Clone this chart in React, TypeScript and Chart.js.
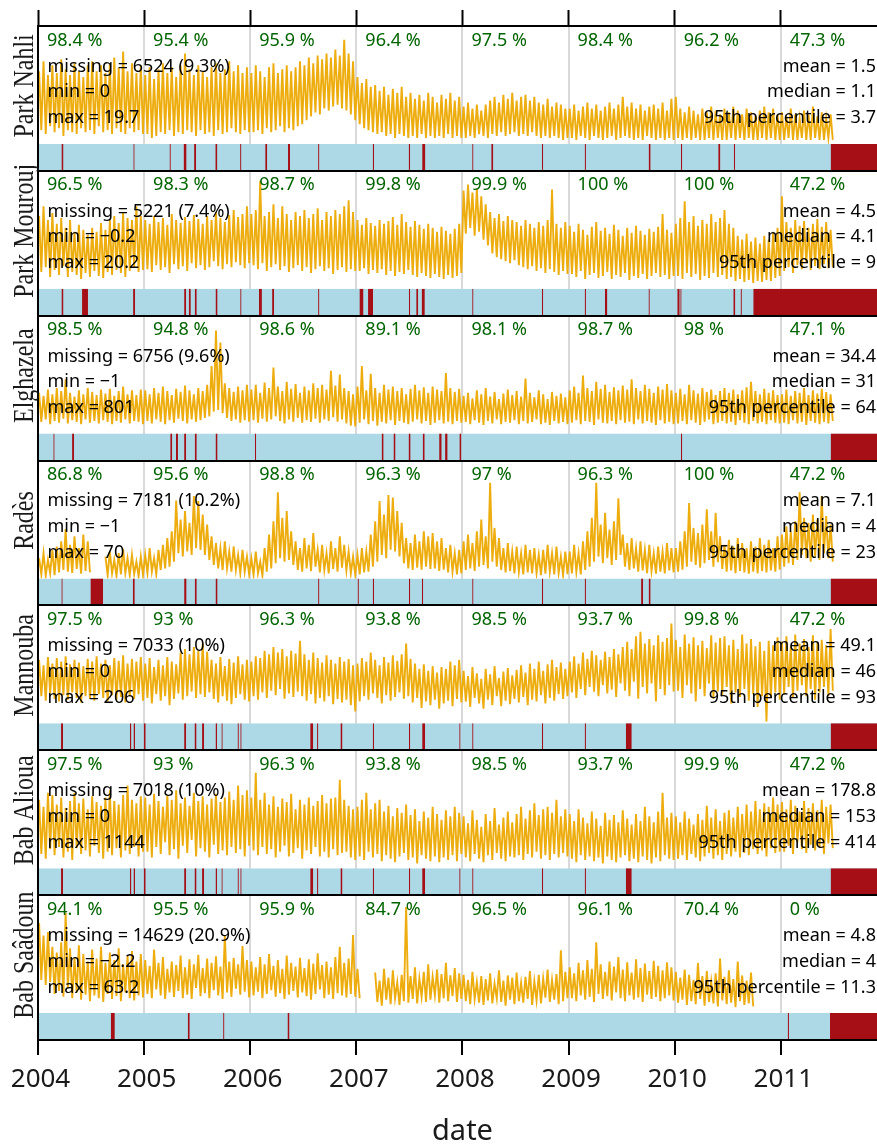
import React, { useEffect, useRef } from 'react';
import { Chart, registerables } from 'chart.js';

Chart.register(...registerables);

// ---------- categories / labels ----------
const STATIONS = ['Park Nahli', 'Park Mourouj', 'Elghazela', 'Radès', 'Mannouba', 'Bab Alioua', 'Bab Saâdoun'];
const YEAR_TICKS = [2004, 2005, 2006, 2007, 2008, 2009, 2010, 2011];
const YEAR_LABELS = ['2004', '2005', '2006', '2007', '2008', '2009', '2010', '2011'];
const X_MIN = 2004;
const X_END = 2012; // end of the plotted period
const X_VIEW_MAX = 2011.906; // right edge visible in the (cropped) figure
const X_TITLE = 'date';

// ---------- yearly data capture (%) ----------
const CAPTURE_NAHLI = [98.4, 95.4, 95.9, 96.4, 97.5, 98.4, 96.2, 47.3];
const CAPTURE_MOUROUJ = [96.5, 98.3, 98.7, 99.8, 99.9, 100, 100, 47.2];
const CAPTURE_ELGHAZELA = [98.5, 94.8, 98.6, 89.1, 98.1, 98.7, 98, 47.1];
const CAPTURE_RADES = [86.8, 95.6, 98.8, 96.3, 97, 96.3, 100, 47.2];
const CAPTURE_MANNOUBA = [97.5, 93, 96.3, 93.8, 98.5, 93.7, 99.8, 47.2];
const CAPTURE_ALIOUA = [97.5, 93, 96.3, 93.8, 98.5, 93.7, 99.9, 47.2];
const CAPTURE_SAADOUN = [94.1, 95.5, 95.9, 84.7, 96.5, 96.1, 70.4, 0];

// ---------- summary statistics ----------
const MISSING_COUNT = [6524, 5221, 6756, 7181, 7033, 7018, 14629];
const MISSING_PCT = ['9.3', '7.4', '9.6', '10.2', '10', '10', '20.9'];
const MIN_VAL = [0, -0.2, -1, -1, 0, 0, -2.2];
const MAX_VAL = [19.7, 20.2, 801, 70, 206, 1144, 63.2];
const MEAN_VAL = [1.5, 4.5, 34.4, 7.1, 49.1, 178.8, 4.8];
const MEDIAN_VAL = [1.1, 4.1, 31, 4, 46, 153, 4];
const P95_VAL = [3.7, 9, 64, 23, 93, 414, 11.3];

// ---------- y range of each time-series strip ----------
const Y_MAX = [6, 12, 150, 35, 130, 500, 16];

// ---------- half-monthly series: local high / local low (from Jan 2004) ----------
const NAHLI_HI = [
  3.7,4.2,3.5,4.0,3.6,4.3,3.8,3.5,4.1,3.7,3.4,4.0,4.2,3.7,4.0,3.6,4.1,4.4,3.9,4.7,3.7,4.1,3.6,4.0,
  3.5,3.9,3.3,3.8,4.1,3.6,3.9,3.4,4.0,4.6,3.8,3.5,4.0,3.7,3.4,3.9,4.1,3.6,3.8,4.2,3.7,4.0,3.6,3.9,
  3.6,4.0,3.7,3.4,3.9,4.1,3.6,3.8,4.0,3.7,3.9,4.2,4.0,4.4,4.1,4.5,4.3,4.6,4.4,4.8,4.5,5.3,4.6,4.2,
  3.4,3.1,3.3,2.9,3.0,2.7,2.9,2.5,2.8,2.6,2.9,2.4,2.6,2.3,2.5,2.2,2.6,2.4,2.1,2.5,2.3,2.6,2.2,2.4,
  1.9,2.1,1.8,2.0,1.7,2.0,2.2,2.4,2.1,2.5,2.3,2.6,2.2,2.4,2.5,2.2,2.4,2.1,2.0,2.3,1.9,2.1,2.0,1.8,
  1.8,2.0,1.7,1.9,2.1,1.8,2.0,1.7,1.9,2.1,1.8,2.0,2.4,1.9,2.1,1.8,2.0,1.7,1.9,2.0,1.8,2.1,1.7,2.3,
  2.4,1.8,1.6,1.9,1.7,1.5,1.8,1.6,1.9,1.7,1.5,1.8,1.6,1.9,1.7,1.5,1.8,1.6,1.4,1.7,1.9,1.6,1.8,1.5,
  1.6,1.4,1.8,1.5,1.3,1.7,1.5,1.9,1.4,1.6,1.3,1.5,
];
const NAHLI_LO = [
  0.7,0.5,0.9,0.6,0.8,0.4,0.7,0.6,0.5,0.8,0.6,0.7,0.5,0.9,0.6,0.7,0.5,0.8,0.6,0.5,0.8,0.6,0.7,0.5,
  0.5,0.3,0.4,0.6,0.5,0.7,0.4,0.6,0.5,0.7,0.6,0.4,0.7,0.5,0.6,0.4,0.7,0.5,0.6,0.8,0.6,0.5,0.7,0.6,
  0.6,0.7,0.5,0.8,0.6,0.7,0.9,0.6,0.8,0.7,0.9,1.0,1.2,1.4,1.6,1.5,1.8,1.7,1.9,2.0,1.8,1.7,1.5,1.2,
  1.0,0.8,0.7,0.6,0.5,0.6,0.4,0.5,0.3,0.5,0.4,0.3,0.4,0.3,0.5,0.3,0.4,0.3,0.4,0.3,0.5,0.3,0.4,0.3,
  0.3,0.4,0.3,0.5,0.4,0.3,0.5,0.4,0.6,0.4,0.5,0.6,0.4,0.5,0.4,0.6,0.4,0.3,0.4,0.3,0.4,0.3,0.2,0.3,
  0.3,0.2,0.4,0.3,0.2,0.4,0.3,0.2,0.3,0.4,0.2,0.3,0.4,0.3,0.2,0.3,0.2,0.4,0.3,0.2,0.3,0.2,0.3,0.2,
  0.3,0.2,0.3,0.2,0.3,0.2,0.2,0.3,0.2,0.3,0.2,0.2,0.3,0.2,0.3,0.2,0.3,0.2,0.2,0.3,0.2,0.3,0.2,0.2,
  0.2,0.3,0.2,0.2,0.3,0.2,0.2,0.3,0.2,0.2,0.3,0.2,
];
const MOUROUJ_HI = [
  7.4,8.4,7.0,7.7,6.6,7.2,6.2,7.0,5.8,6.5,6.0,5.5,6.2,5.8,6.7,6.0,7.0,7.4,6.7,7.7,7.2,7.0,8.4,7.4,
  7.0,6.6,7.4,6.8,7.2,6.5,7.6,7.0,6.7,7.3,6.9,7.5,7.1,6.6,7.4,7.0,7.8,7.2,6.8,7.5,8.0,7.3,7.6,8.4,
  7.6,8.0,11.0,7.4,7.8,8.6,7.2,8.4,7.6,7.0,7.8,7.4,8.0,7.2,7.6,8.2,7.0,7.8,7.4,8.0,7.6,8.4,9.0,7.8,
  7.0,6.5,7.2,6.7,6.4,7.0,6.6,6.9,7.3,6.5,7.6,6.8,6.3,6.9,6.5,6.1,6.6,6.2,5.8,6.3,5.9,5.6,6.1,6.6,
  10.0,10.6,9.8,10.2,9.4,8.6,7.8,7.2,7.6,6.9,7.4,7.0,6.8,6.4,7.0,6.6,6.2,6.8,6.4,7.0,10.1,6.6,6.2,6.8,
  6.4,5.8,6.6,6.0,5.5,6.3,6.8,5.9,6.2,5.6,6.5,6.0,5.4,6.2,5.7,6.4,5.9,5.5,6.1,5.8,6.3,7.6,6.0,5.7,
  6.6,7.2,8.9,6.8,7.4,6.4,7.0,6.6,7.6,6.8,7.2,8.0,6.6,6.2,5.4,5.0,5.6,4.8,5.2,4.6,5.4,5.0,5.8,6.2,
  9.4,6.8,6.2,7.0,6.4,6.9,6.2,6.6,7.1,6.3,6.8,6.0,
];
const MOUROUJ_LO = [
  1.7,2.2,1.2,1.9,1.4,2.3,1.2,1.7,1.4,1.0,1.6,1.2,1.8,1.3,1.1,1.7,1.4,1.9,1.6,1.2,1.8,2.2,1.7,1.9,
  2.0,1.7,2.4,1.9,2.2,1.6,2.5,2.0,2.3,1.8,2.6,2.1,2.4,1.9,2.2,2.8,2.3,2.0,2.5,2.2,2.7,2.4,2.1,2.6,
  2.4,2.0,2.6,1.8,2.2,2.5,1.9,2.3,1.7,2.1,2.4,1.8,2.2,1.6,2.0,2.3,1.8,2.1,1.5,1.9,2.2,1.7,2.0,1.8,
  1.8,2.1,1.5,1.9,1.6,2.0,1.4,1.8,1.3,1.7,1.5,1.9,1.4,1.2,1.6,1.3,1.1,1.5,1.2,1.0,1.4,1.1,1.3,1.6,
  5.6,6.2,5.4,5.8,5.0,4.4,3.6,3.2,3.0,2.8,2.6,2.9,2.4,2.2,2.0,2.3,1.8,2.1,1.6,2.0,1.7,1.4,1.8,1.5,
  1.5,1.2,1.8,1.0,1.4,1.6,1.1,1.3,1.7,1.0,1.4,1.2,1.6,0.9,1.3,1.1,1.5,1.0,1.3,1.6,1.2,1.4,1.0,1.3,
  1.3,1.0,1.6,1.2,1.5,0.9,1.3,1.1,1.6,1.2,1.4,1.0,1.2,0.8,1.0,0.7,0.9,0.6,0.8,0.7,0.9,0.8,1.1,1.3,
  1.8,2.2,1.6,2.4,2.0,2.6,1.9,2.3,2.0,2.5,2.1,2.2,
];
const ELGHAZELA_HI = [
  52,48,56,50,58,54,69,52,47,55,50,58,53,49,56,51,57,48,54,60,50,55,49,56,
  55,50,58,52,60,54,49,57,53,61,55,50,58,54,62,86,131,116,64,58,53,60,55,62,
  56,62,52,65,58,84,60,54,66,57,63,52,60,55,64,58,62,56,80,61,75,58,54,50,
  60,86,55,76,58,52,62,56,60,54,58,50,57,62,55,59,52,60,56,54,77,58,53,57,
  48,52,45,55,50,58,47,53,44,51,56,49,54,47,70,52,46,55,50,44,53,48,51,46,
  55,60,52,74,58,54,66,57,62,53,59,55,61,56,69,58,54,62,57,52,60,56,63,55,
  52,57,50,62,55,51,58,53,56,49,54,58,52,56,50,55,59,66,54,50,57,52,55,49,
  50,56,48,54,52,58,49,55,51,57,53,50,
];
const ELGHAZELA_LO = [
  15,18,12,16,14,19,13,17,15,12,18,14,16,13,17,15,12,16,14,18,13,16,15,12,
  16,13,18,15,12,17,14,19,16,13,18,15,17,20,22,28,30,26,20,16,18,14,17,15,
  17,14,19,15,18,22,16,13,18,15,20,14,17,15,19,14,18,16,21,15,18,13,10,9,
  14,18,12,16,10,15,13,17,11,16,14,12,15,18,13,16,11,14,17,13,15,12,16,14,
  15,12,17,14,11,16,13,18,12,15,14,17,12,16,13,15,18,12,14,11,16,13,15,12,
  14,17,12,16,15,11,18,14,13,16,12,17,14,15,12,18,13,16,14,11,17,13,15,12,
  13,16,12,17,14,11,15,18,12,14,16,13,15,11,17,14,12,16,13,15,12,17,14,13,
  14,12,17,13,15,11,16,14,12,15,13,16,
];
const RADES_HI = [
  6.0,7.5,5.5,8.5,9.5,11.0,14.7,10.0,12.5,9.0,13.0,11.0,null,null,null,6.5,8.0,5.5,7.5,8.8,6.0,7.0,5.0,6.5,
  7.0,9.0,6.0,8.5,10.0,12.0,14.0,23.1,17.5,20.0,16.5,24.5,23.0,19.0,16.0,12.5,10.5,9.0,11.0,8.0,9.5,7.0,8.5,6.5,
  6.0,8.0,5.0,9.0,13.0,17.0,25.6,18.0,20.0,14.0,11.0,9.0,12.0,10.0,13.5,8.5,10.0,7.5,11.0,9.0,12.5,10.0,8.0,6.5,
  7.0,9.0,8.0,13.0,17.0,23.0,19.0,24.8,24.0,20.0,16.5,12.0,10.5,13.0,11.0,14.0,12.5,13.5,11.0,12.0,9.0,10.0,7.5,8.5,
  11.0,13.0,10.5,14.0,17.5,12.5,28.4,15.0,12.0,9.0,10.5,8.0,9.5,7.5,10.0,8.5,9.0,7.0,8.5,10.0,7.5,9.5,6.5,8.0,
  8.0,10.0,7.5,11.0,14.0,18.0,28.4,16.0,19.5,14.5,17.0,23.8,13.0,10.5,12.0,9.0,11.0,8.5,10.0,7.5,9.5,8.0,10.5,9.0,
  9.0,11.0,14.0,22.4,15.0,13.5,16.0,20.5,14.0,19.5,12.5,10.0,11.5,9.5,12.0,10.5,9.0,11.0,9.5,12.0,10.0,11.5,9.0,12.5,
  13.0,15.5,14.0,17.0,25.6,18.0,16.5,19.0,17.5,24.5,18.5,16.0,
];
const RADES_LO = [
  1.2,0.8,1.5,1.0,1.8,2.5,2.0,1.6,2.8,1.4,2.2,1.8,null,null,null,1.0,1.5,0.7,1.2,1.6,0.9,1.3,0.6,1.0,
  1.5,2.0,1.2,2.5,3.0,3.5,5.0,7.5,6.5,8.0,7.0,9.0,8.5,7.0,5.5,4.0,3.0,2.5,3.0,2.0,2.5,1.5,2.0,1.2,
  1.0,1.5,0.8,2.0,3.0,4.5,6.0,5.0,5.5,4.0,2.5,2.0,3.0,2.2,3.5,1.8,2.5,1.5,2.8,2.0,3.2,2.4,1.5,1.0,
  1.2,1.8,2.0,3.5,5.0,7.0,6.0,8.5,8.0,6.5,4.5,3.0,2.5,3.2,2.6,3.5,2.8,3.0,2.2,2.6,1.8,2.0,1.2,1.5,
  2.5,3.0,2.2,3.5,4.0,3.0,5.0,3.5,2.5,1.8,2.2,1.5,2.0,1.2,1.8,1.5,1.6,1.0,1.4,2.0,1.2,1.6,0.9,1.3,
  1.5,2.0,1.2,2.5,3.5,5.0,6.5,4.5,6.0,4.0,5.5,7.0,3.5,2.5,3.0,2.0,2.4,1.6,2.2,1.4,2.0,1.5,2.4,1.8,
  2.0,2.6,3.5,5.0,4.0,3.2,4.5,5.5,3.5,4.8,2.8,2.0,2.4,1.6,2.2,1.8,1.4,2.0,1.5,2.2,1.8,2.4,2.0,2.6,
  3.5,4.5,4.0,5.5,7.0,6.0,5.0,6.5,5.5,7.5,6.0,5.0,
];
const MANNOUBA_HI = [
  70,64,73,66,72,68,74,65,70,67,63,71,68,74,66,70,64,72,69,75,66,71,68,73,
  66,72,62,70,64,73,68,65,78,82,76,84,80,88,79,70,66,73,63,71,67,74,65,70,
  68,74,72,80,76,84,78,82,74,80,77,91,76,70,78,72,67,75,70,66,73,68,71,64,
  66,72,68,78,70,64,73,67,75,69,76,88,71,66,60,65,58,63,56,62,60,68,64,70,
  58,52,62,55,49,60,54,63,50,57,61,53,59,64,56,66,60,68,58,65,70,62,67,60,
  68,74,66,78,71,80,75,70,79,73,82,76,84,90,82,96,101,88,93,86,97,90,94,110,
  92,84,98,88,95,86,91,83,97,89,94,96,86,92,82,98,88,93,85,90,80,91,86,95,
  90,96,85,98,88,93,84,97,89,92,86,104,
];
const MANNOUBA_LO = [
  30,25,33,27,24,31,26,34,28,23,30,27,25,32,28,24,31,26,29,23,30,27,32,25,
  28,22,32,25,30,20,27,33,26,30,35,28,32,29,34,27,23,30,25,21,28,32,26,24,
  30,26,34,28,36,31,38,27,33,29,35,30,25,32,22,28,24,30,21,27,23,26,20,13,
  24,30,26,33,28,22,31,25,29,34,27,30,23,28,17,24,20,26,16,22,25,19,27,23,
  24,18,28,22,16,26,20,30,19,25,21,27,23,29,20,26,24,31,22,28,25,32,27,30,
  34,28,38,31,40,35,30,42,33,37,29,44,36,30,46,27,40,33,44,24,38,31,42,35,
  36,28,42,33,24,38,30,44,27,35,31,40,22,34,29,38,25,32,18,30,2,28,34,26,
  32,40,28,36,42,30,38,26,34,40,30,36,
];
const ALIOUA_HI = [
  290,260,320,310,270,300,255,285,320,275,295,250,305,280,265,300,330,285,270,310,350,290,275,305,
  300,270,315,285,260,310,290,330,275,300,265,320,285,305,270,295,315,280,300,325,290,350,310,330,
  300,405,290,320,270,305,260,295,280,315,250,290,270,300,265,285,310,275,295,300,375,290,265,250,
  260,290,320,250,275,290,240,265,220,255,235,270,225,250,200,240,215,260,230,205,245,220,260,235,
  220,190,245,205,175,230,200,255,185,215,240,195,230,260,210,245,275,225,250,260,235,290,220,250,
  230,200,250,215,190,240,210,180,235,205,225,195,245,210,185,230,200,260,220,195,240,320,215,235,
  220,195,240,210,185,230,205,265,215,250,200,235,245,215,260,230,270,240,285,250,275,260,300,270,
  280,250,290,265,240,285,255,275,245,290,260,270,
];
const ALIOUA_LO = [
  60,40,80,55,90,45,70,35,85,60,75,50,95,65,40,70,55,85,45,75,60,90,50,70,
  70,45,90,60,110,55,80,40,95,65,120,50,85,70,45,100,60,75,55,90,65,80,50,95,
  75,55,90,60,80,45,70,95,50,65,85,40,75,60,90,50,70,45,80,55,65,70,45,35,
  50,35,70,45,60,30,55,40,25,50,65,35,45,20,55,40,30,50,25,45,35,55,30,60,
  45,30,60,40,25,55,35,65,40,30,50,45,55,35,60,45,70,40,55,35,60,45,65,50,
  40,25,55,35,50,30,45,20,50,35,25,45,55,30,40,25,50,35,20,45,30,55,40,35,
  40,55,35,60,45,30,50,65,40,55,35,60,50,70,45,65,55,80,60,75,50,85,65,70,
  70,95,60,110,80,65,100,75,90,60,105,85,
];
const SAADOUN_HI = [
  12.2,10.5,11.0,9.0,8.2,9.6,13.6,8.8,7.5,9.2,8.0,7.0,8.6,7.4,9.0,6.8,8.2,7.2,8.8,6.6,7.8,8.4,7.0,8.0,
  7.2,6.4,8.6,6.8,7.6,6.0,7.0,6.5,7.8,6.2,7.3,6.6,7.9,6.1,7.4,6.8,7.7,6.3,10.6,7.0,7.5,6.6,9.1,7.2,
  7.0,6.2,7.6,6.6,8.0,6.4,7.2,6.0,7.8,6.8,6.3,7.5,6.1,7.3,6.7,8.1,6.5,7.0,6.2,7.6,9.0,6.8,7.4,10.6,
  6.0,null,null,null,5.5,4.4,6.0,4.8,5.8,4.2,5.2,14.4,5.0,6.2,4.7,5.6,6.6,4.9,5.9,5.3,6.8,5.1,6.1,5.4,
  5.2,4.5,5.6,4.2,5.0,4.6,5.4,4.0,5.8,4.4,5.1,4.8,5.5,4.1,4.9,5.7,4.3,5.2,4.7,5.9,4.5,5.3,8.5,5.6,
  6.2,5.4,6.8,5.8,7.2,6.0,9.6,6.6,5.6,7.0,6.3,7.6,5.9,6.9,5.5,7.3,6.1,6.7,5.7,7.1,6.4,5.8,6.9,6.2,
  5.6,4.8,5.9,5.2,4.5,6.8,5.0,5.7,4.3,5.4,7.4,4.9,5.8,4.6,7.0,5.1,4.4,5.5,
];
const SAADOUN_LO = [
  4.5,3.8,4.2,2.6,3.0,2.2,3.4,2.0,2.8,1.8,2.5,1.6,2.4,2.0,1.5,2.6,1.9,2.3,1.6,2.8,2.0,1.7,2.4,2.1,
  2.6,2.0,3.2,2.4,1.9,2.8,2.2,3.0,2.0,2.5,1.9,3.4,2.3,2.7,2.0,3.1,2.4,1.9,2.8,2.2,3.3,2.5,2.9,2.1,
  2.4,2.9,2.0,2.6,3.1,2.2,2.7,1.9,2.5,3.0,2.1,2.8,2.3,1.8,2.6,3.2,2.0,2.5,1.9,2.7,2.4,2.1,2.6,2.2,
  2.0,null,null,null,1.5,1.0,1.8,1.2,2.0,1.1,1.6,1.4,1.9,1.3,2.2,1.5,1.8,2.4,1.4,2.0,1.6,2.3,1.5,1.9,
  1.6,1.2,1.9,1.4,1.1,1.7,1.3,2.0,1.5,1.0,1.8,1.2,1.6,1.4,1.9,1.1,1.7,1.3,2.1,1.5,1.8,1.2,1.6,2.0,
  2.0,1.6,2.4,1.8,2.2,1.5,2.6,1.9,2.3,1.7,2.8,2.0,1.6,2.4,1.8,2.1,1.5,2.5,1.9,2.2,1.6,2.0,2.4,1.7,
  1.4,1.8,1.1,1.6,1.2,1.9,1.0,1.5,1.3,0.9,1.7,1.2,1.4,0.8,1.6,1.1,1.3,0.9,
];

// ---------- missing-data periods [start, end] in decimal years ----------
const NAHLI_GAPS = [
  [2004.221, 2004.240], [2004.900, 2004.909], [2005.241, 2005.250], [2005.372, 2005.400], [2005.471, 2005.490],
  [2005.671, 2005.690], [2005.906, 2005.915], [2006.141, 2006.160], [2006.356, 2006.375], [2006.641, 2006.650],
  [2007.156, 2007.165], [2007.493, 2007.507], [2007.620, 2007.650], [2008.093, 2008.102], [2008.271, 2008.290],
  [2008.750, 2008.759], [2009.153, 2009.162], [2009.754, 2009.773], [2010.060, 2010.069], [2010.410, 2010.430],
  [2010.558, 2010.568], [2011.469, 2012.0],
];
const MOUROUJ_GAPS = [
  [2004.221, 2004.240], [2004.415, 2004.471], [2004.896, 2004.915], [2005.377, 2005.396], [2005.421, 2005.440],
  [2005.477, 2005.496], [2005.673, 2005.692], [2005.907, 2005.916], [2006.082, 2006.110], [2006.206, 2006.225],
  [2006.641, 2006.650], [2007.029, 2007.067], [2007.110, 2007.157], [2007.496, 2007.506], [2007.564, 2007.583],
  [2007.615, 2007.645], [2008.093, 2008.102], [2008.750, 2008.759], [2009.153, 2009.162], [2009.342, 2009.365],
  [2009.754, 2009.764], [2010.024, 2010.047], [2010.054, 2010.063], [2010.552, 2010.571], [2010.622, 2010.631],
  [2010.740, 2012.0],
];
const ELGHAZELA_GAPS = [
  [2004.146, 2004.155], [2004.321, 2004.340], [2005.246, 2005.265], [2005.300, 2005.319], [2005.377, 2005.396],
  [2005.477, 2005.496], [2005.673, 2005.692], [2006.045, 2006.054], [2007.238, 2007.257], [2007.350, 2007.369],
  [2007.492, 2007.511], [2007.625, 2007.644], [2007.780, 2007.804], [2007.836, 2007.860], [2007.971, 2007.990],
  [2010.060, 2010.069], [2011.469, 2012.0],
];
const RADES_GAPS = [
  [2004.222, 2004.231], [2004.494, 2004.613], [2004.893, 2004.912], [2005.377, 2005.400], [2005.477, 2005.496],
  [2005.673, 2005.692], [2006.641, 2006.650], [2007.013, 2007.022], [2007.156, 2007.165], [2007.497, 2007.506],
  [2007.619, 2007.628], [2008.093, 2008.102], [2008.750, 2008.759], [2009.153, 2009.162], [2009.683, 2009.702],
  [2009.754, 2009.773], [2011.469, 2012.0],
];
const MANNOUBA_GAPS = [
  [2004.217, 2004.236], [2004.866, 2004.880], [2004.900, 2004.914], [2004.996, 2005.015], [2005.377, 2005.396],
  [2005.475, 2005.494], [2005.546, 2005.565], [2005.673, 2005.687], [2005.730, 2005.739], [2005.882, 2005.891],
  [2005.908, 2005.917], [2006.565, 2006.593], [2006.631, 2006.640], [2006.850, 2006.869], [2007.156, 2007.165],
  [2007.497, 2007.506], [2007.620, 2007.648], [2007.971, 2007.980], [2008.093, 2008.102], [2008.750, 2008.759],
  [2009.153, 2009.162], [2009.539, 2009.595], [2011.469, 2012.0],
];
const ALIOUA_GAPS = [
  [2004.217, 2004.236], [2004.866, 2004.880], [2004.900, 2004.914], [2004.996, 2005.015], [2005.377, 2005.396],
  [2005.475, 2005.494], [2005.546, 2005.565], [2005.673, 2005.687], [2005.730, 2005.739], [2005.882, 2005.891],
  [2005.908, 2005.917], [2006.565, 2006.593], [2006.631, 2006.640], [2006.850, 2006.869], [2007.156, 2007.165],
  [2007.497, 2007.506], [2007.620, 2007.648], [2007.971, 2007.980], [2008.093, 2008.102], [2008.750, 2008.759],
  [2009.153, 2009.162], [2009.539, 2009.595], [2011.469, 2012.0],
];
const SAADOUN_GAPS = [
  [2004.686, 2004.724], [2005.411, 2005.430], [2005.746, 2005.755], [2006.351, 2006.370],
  [2011.066, 2011.075], [2011.463, 2012.0],
];

// ---------- grouping ----------
const SERIES_HI = [NAHLI_HI, MOUROUJ_HI, ELGHAZELA_HI, RADES_HI, MANNOUBA_HI, ALIOUA_HI, SAADOUN_HI];
const SERIES_LO = [NAHLI_LO, MOUROUJ_LO, ELGHAZELA_LO, RADES_LO, MANNOUBA_LO, ALIOUA_LO, SAADOUN_LO];
const CAPTURE = [CAPTURE_NAHLI, CAPTURE_MOUROUJ, CAPTURE_ELGHAZELA, CAPTURE_RADES, CAPTURE_MANNOUBA, CAPTURE_ALIOUA, CAPTURE_SAADOUN];
const GAPS = [NAHLI_GAPS, MOUROUJ_GAPS, ELGHAZELA_GAPS, RADES_GAPS, MANNOUBA_GAPS, ALIOUA_GAPS, SAADOUN_GAPS];

const COL_TREND = '#EEAD0E';
const COL_DATA = '#ADD8E6';
const COL_MISSING = '#A50F15';
const COL_CAPTURE = '#006400';
const MIN_STRIPE = 0.012; // minimum drawn duration of a missing stripe (years)

function seriesPoints(hi: (number | null)[], lo: (number | null)[]) {
  const pts: { x: number; y: number | null }[] = [];
  hi.forEach((h, i) => {
    pts.push({ x: X_MIN + (i + 0.25) / 24, y: h });
    pts.push({ x: X_MIN + (i + 0.75) / 24, y: lo[i] });
  });
  return pts;
}

function stripPoints(intervals: number[][]) {
  const pts: { x: number; y: number | null }[] = [];
  intervals.forEach(([s, e]) => {
    let a = s;
    let b = e;
    if (b - a < MIN_STRIPE) {
      const c = (a + b) / 2;
      a = c - MIN_STRIPE / 2;
      b = c + MIN_STRIPE / 2;
    }
    pts.push({ x: a, y: 1 }, { x: b, y: 1 }, { x: b, y: null });
  });
  return pts;
}

const fmtNum = (v: number) => (v < 0 ? '\u2212' + Math.abs(v) : String(v));

const textPlugin = {
  id: 'summaryText',
  afterDraw(chart: any) {
    const ctx = chart.ctx;
    const xs = chart.scales.x;
    const area = chart.chartArea;
    const fullRight = xs.getPixelForValue(X_END);
    ctx.save();
    STATIONS.forEach((name, p) => {
      const ys = chart.scales['y' + p];
      const top = ys.top;
      ctx.textBaseline = 'middle';
      ctx.font = '18px "Noto Sans"';
      ctx.fillStyle = COL_CAPTURE;
      ctx.textAlign = 'left';
      CAPTURE[p].forEach((v, k) => {
        ctx.fillText(`${v} %`, xs.getPixelForValue(YEAR_TICKS[k]) + 9, top + 14.5);
      });
      ctx.fillStyle = '#000';
      const left = [
        `missing = ${MISSING_COUNT[p]} (${MISSING_PCT[p]}%)`,
        `min = ${fmtNum(MIN_VAL[p])}`,
        `max = ${fmtNum(MAX_VAL[p])}`,
      ];
      const right = [
        `mean = ${fmtNum(MEAN_VAL[p])}`,
        `median = ${fmtNum(MEDIAN_VAL[p])}`,
        `95th percentile = ${fmtNum(P95_VAL[p])}`,
      ];
      const rows = [40.7, 66.3, 92.3];
      left.forEach((t, r) => ctx.fillText(t, area.left + 9.5, top + rows[r]));
      ctx.textAlign = 'right';
      right.forEach((t, r) => ctx.fillText(t, fullRight - 11, top + rows[r]));
      // station label
      ctx.save();
      ctx.translate(33, (ys.top + ys.bottom) / 2 + 1);
      ctx.rotate(-Math.PI / 2);
      ctx.scale(1, 1.2);
      ctx.font = '24px "Liberation Serif"';
      ctx.textAlign = 'center';
      ctx.textBaseline = 'alphabetic';
      ctx.fillStyle = '#1a1a1a';
      ctx.fillText(name, 0, 0);
      ctx.restore();
    });
    ctx.font = '29px "Noto Sans"';
    ctx.fillStyle = '#1a1a1a';
    ctx.textAlign = 'center';
    ctx.textBaseline = 'alphabetic';
    ctx.fillText(X_TITLE, (area.left + fullRight) / 2, 1140);
    ctx.restore();
  },
};

export default function App() {
  const ref = useRef<HTMLCanvasElement | null>(null);
  useEffect(() => {
    if (!ref.current) return;
    const datasets: any[] = [];
    const scales: any = {
      x: {
        type: 'linear',
        position: 'bottom',
        min: X_MIN,
        max: X_VIEW_MAX,
        afterBuildTicks: (s: any) => { s.ticks = YEAR_TICKS.map((v) => ({ value: v })); },
        afterFit: (s: any) => { s.height = 104; s.paddingLeft = 0; s.paddingRight = 0; },
        ticks: {
          autoSkip: false,
          maxRotation: 0,
          padding: 9,
          labelOffset: 2.5,
          color: '#1a1a1a',
          font: { family: 'Noto Sans', size: 26 },
          callback: (_v: any, i: number) => YEAR_LABELS[i],
        },
        grid: { color: '#d9d9d9', lineWidth: 2, drawTicks: true, tickLength: 15, tickColor: '#000', tickWidth: 2 },
        border: { display: true, color: '#000', width: 2, z: 1 },
      },
      xt: {
        type: 'linear',
        position: 'top',
        min: X_MIN,
        max: X_VIEW_MAX,
        afterBuildTicks: (s: any) => { s.ticks = YEAR_TICKS.map((v) => ({ value: v })); },
        afterFit: (s: any) => { s.height = 26; s.paddingLeft = 0; s.paddingRight = 0; },
        ticks: { display: false },
        grid: { drawOnChartArea: false, drawTicks: true, tickLength: 16, tickColor: '#000', tickWidth: 2 },
        border: { display: true, color: '#000', width: 2, z: 1 },
      },
    };
    STATIONS.forEach((_, p) => {
      scales['y' + p] = {
        type: 'linear',
        position: 'left',
        stack: 'panels',
        stackWeight: 118,
        weight: 100 - 2 * p,
        min: 0,
        max: Y_MAX[p],
        afterBuildTicks: (s: any) => { s.ticks = [{ value: s.max }]; },
        afterFit: (s: any) => { s.width = 38; },
        ticks: { display: false },
        grid: { display: true, drawTicks: false, color: '#000', lineWidth: 2, z: 1 },
        border: { display: true, color: '#000', width: 2, z: 1 },
      };
      scales['b' + p] = {
        type: 'linear',
        position: 'left',
        stack: 'panels',
        stackWeight: 27,
        weight: 99 - 2 * p,
        min: 0,
        max: 1,
        afterFit: (s: any) => { s.width = 38; },
        ticks: { display: false },
        grid: { display: false, drawTicks: false },
        border: { display: true, color: '#000', width: 2, z: 1 },
      };
      datasets.push({
        label: STATIONS[p],
        data: seriesPoints(SERIES_HI[p], SERIES_LO[p]),
        xAxisID: 'x',
        yAxisID: 'y' + p,
        borderColor: COL_TREND,
        borderWidth: 1.9,
        pointRadius: 0,
        tension: 0,
        fill: false,
        spanGaps: false,
        order: 1,
      });
      datasets.push({
        label: STATIONS[p] + ' missing',
        data: stripPoints(GAPS[p]),
        xAxisID: 'x',
        yAxisID: 'b' + p,
        borderColor: 'rgba(0,0,0,0)',
        borderWidth: 0,
        backgroundColor: COL_MISSING,
        pointRadius: 0,
        fill: { value: 0 },
        spanGaps: false,
        order: 2,
      });
      datasets.push({
        label: STATIONS[p] + ' data',
        data: stripPoints([[X_MIN, X_END]]),
        xAxisID: 'x',
        yAxisID: 'b' + p,
        borderColor: 'rgba(0,0,0,0)',
        borderWidth: 0,
        backgroundColor: COL_DATA,
        pointRadius: 0,
        fill: { value: 0 },
        order: 3,
      });
    });

    const chart = new Chart(ref.current, {
      type: 'line',
      data: { datasets },
      options: {
        animation: false,
        responsive: false,
        maintainAspectRatio: false,
        events: [],
        layout: { padding: 0 },
        plugins: { legend: { display: false }, tooltip: { enabled: false } },
        scales,
      } as any,
      plugins: [textPlugin],
    });
    return () => chart.destroy();
  }, []);

  return (
    <div style={{ position: 'absolute', left: 0, top: 0, width: 877, height: 1144, background: '#fff' }}>
      <canvas ref={ref} width={877} height={1144} style={{ display: 'block' }} />
    </div>
  );
}
